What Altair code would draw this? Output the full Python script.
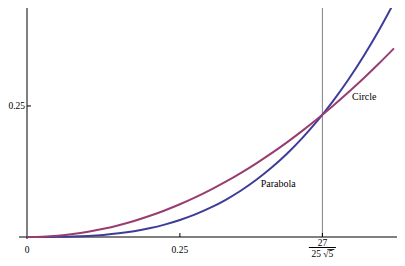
import altair as alt
import pandas as pd

# Curve samples
xs = [0.0, 0.025, 0.05, 0.075, 0.1, 0.125, 0.15, 0.175, 0.2, 0.225, 0.25, 0.275,
      0.3, 0.325, 0.35, 0.375, 0.4, 0.425, 0.45, 0.475, 0.5, 0.525, 0.55, 0.575, 0.6]
parabola = [0.0, 0.00003, 0.00026, 0.00087, 0.00207, 0.00404, 0.00699, 0.0111, 0.01656,
            0.02358, 0.03235, 0.04306, 0.0559, 0.07107, 0.08877, 0.10918, 0.13251,
            0.15894, 0.18867, 0.22189, 0.2588, 0.29959, 0.34447, 0.3936, 0.44721]
circle = [0.0, 0.000625, 0.0025, 0.005625, 0.01, 0.015625, 0.0225, 0.030625, 0.04,
          0.050625, 0.0625, 0.075625, 0.09, 0.105625, 0.1225, 0.140625, 0.16, 0.180625,
          0.2025, 0.225625, 0.25, 0.275625, 0.3025, 0.330625, 0.36]

series_names = ["Parabola", "Circle"]
series_colors = ["#3d3d99", "#993d71"]

x_tick_vals = [0.25, 0.48298]
x_tick_labels = ["0", "0.25"]
x_tick_label_vals = [0.0, 0.25]
y_tick_vals = [0.25]
y_tick_labels = ["0.25"]
mark_x = 0.48298  # 27/(25*sqrt(5))

label_names = ["Circle", "Parabola"]
label_x = [0.5514, 0.4108]
label_y = [0.2615, 0.0954]

X0 = 27               # page x of the y axis
PXU = 611.6           # px per x unit
W, H = 397 - X0, 229
XDOM = [0, W / PXU]
YDOM = [0, 0.437]
FONT = "Liberation Serif, Times New Roman, serif"
TFS = 9.5

xs_scale = alt.Scale(domain=XDOM, nice=False, zero=False)
ys_scale = alt.Scale(domain=YDOM, nice=False, zero=False)

rows = []
for name, vals in zip(series_names, [parabola, circle]):
    for x, y in zip(xs, vals):
        rows.append({"x": x, "y": y, "series": name})
curves_df = pd.DataFrame(rows)

curves = alt.Chart(curves_df).mark_line(strokeWidth=2, interpolate="monotone", clip=False).encode(
    x=alt.X("x:Q", scale=xs_scale, axis=None),
    y=alt.Y("y:Q", scale=ys_scale, axis=None),
    color=alt.Color("series:N", scale=alt.Scale(domain=series_names, range=series_colors), legend=None),
)

one = pd.DataFrame({"v": [0.0]})
mark_df = pd.DataFrame({"x": [mark_x], "y": [0.0]})

vline = alt.Chart(mark_df).mark_rule(color="#808080", strokeWidth=1).encode(
    x=alt.X("x:Q", scale=xs_scale, axis=None),
    y=alt.Y("y:Q", scale=ys_scale, axis=None),
    y2=alt.value(0),
)

xaxis = alt.Chart(one).mark_rule(color="black", strokeWidth=1).encode(
    y=alt.Y("v:Q", scale=ys_scale, axis=None),
    x=alt.value(-8),
    x2=alt.value(W),
)
yaxis = alt.Chart(one).mark_rule(color="black", strokeWidth=1).encode(
    x=alt.X("v:Q", scale=xs_scale, axis=None),
    y=alt.value(0),
    y2=alt.value(H + 2),
)

xticks = alt.Chart(pd.DataFrame({"x": x_tick_vals})).mark_rule(color="black").encode(
    x=alt.X("x:Q", scale=xs_scale, axis=None),
    y=alt.value(H),
    y2=alt.value(H - 4),
)
yticks = alt.Chart(pd.DataFrame({"y": y_tick_vals})).mark_rule(color="black").encode(
    y=alt.Y("y:Q", scale=ys_scale, axis=None),
    x=alt.value(0),
    x2=alt.value(4),
)

xlabels = alt.Chart(pd.DataFrame({"x": x_tick_label_vals, "t": x_tick_labels})).mark_text(
    font=FONT, fontSize=TFS, color="black", align="center", baseline="alphabetic"
).encode(
    x=alt.X("x:Q", scale=xs_scale, axis=None),
    y=alt.value(245),
    text="t:N",
)
ylabels = alt.Chart(pd.DataFrame({"y": y_tick_vals, "t": y_tick_labels})).mark_text(
    font=FONT, fontSize=TFS, color="black", align="right", baseline="middle", dy=0.5
).encode(
    y=alt.Y("y:Q", scale=ys_scale, axis=None),
    x=alt.value(-2),
    text="t:N",
)

frac_df = pd.DataFrame({"x": [mark_x], "x2": [mark_x], "num": ["27"], "den": ["25 \u221a5"]})
frac_num = alt.Chart(frac_df).mark_text(
    font=FONT, fontSize=TFS, color="black", align="center", baseline="alphabetic"
).encode(x=alt.X("x:Q", scale=xs_scale, axis=None), y=alt.value(237.5), text="num:N")
frac_den = alt.Chart(frac_df).mark_text(
    font=FONT, fontSize=TFS, color="black", align="center", baseline="alphabetic"
).encode(x=alt.X("x:Q", scale=xs_scale, axis=None), y=alt.value(249), text="den:N")
frac_bar = alt.Chart(frac_df).mark_rule(color="black", strokeWidth=1, xOffset=-13.5, x2Offset=13.5).encode(
    x=alt.X("x:Q", scale=xs_scale, axis=None), x2=alt.X2("x2"), y=alt.value(239.5)
)
frac_root = alt.Chart(frac_df).mark_rule(color="black", strokeWidth=0.8, xOffset=5.0, x2Offset=12.0).encode(
    x=alt.X("x:Q", scale=xs_scale, axis=None), x2=alt.X2("x2"), y=alt.value(241.5)
)

labels = alt.Chart(pd.DataFrame({"x": label_x, "y": label_y, "t": label_names})).mark_text(
    font=FONT, fontSize=10, color="black", align="center", baseline="alphabetic"
).encode(
    x=alt.X("x:Q", scale=xs_scale, axis=None),
    y=alt.Y("y:Q", scale=ys_scale, axis=None),
    text="t:N",
)

chart = alt.layer(
    vline, xaxis, yaxis, xticks, yticks, curves, xlabels, ylabels,
    frac_num, frac_den, frac_bar, frac_root, labels
).properties(
    width=W, height=H,
    autosize=alt.AutoSizeParams(type="none"),
    padding={"left": X0 - 8, "top": 0, "right": 0, "bottom": 21},
    background="white",
).configure_view(stroke=None)

chart.save("out.html", embed_options={"renderer": "svg", "actions": False})
